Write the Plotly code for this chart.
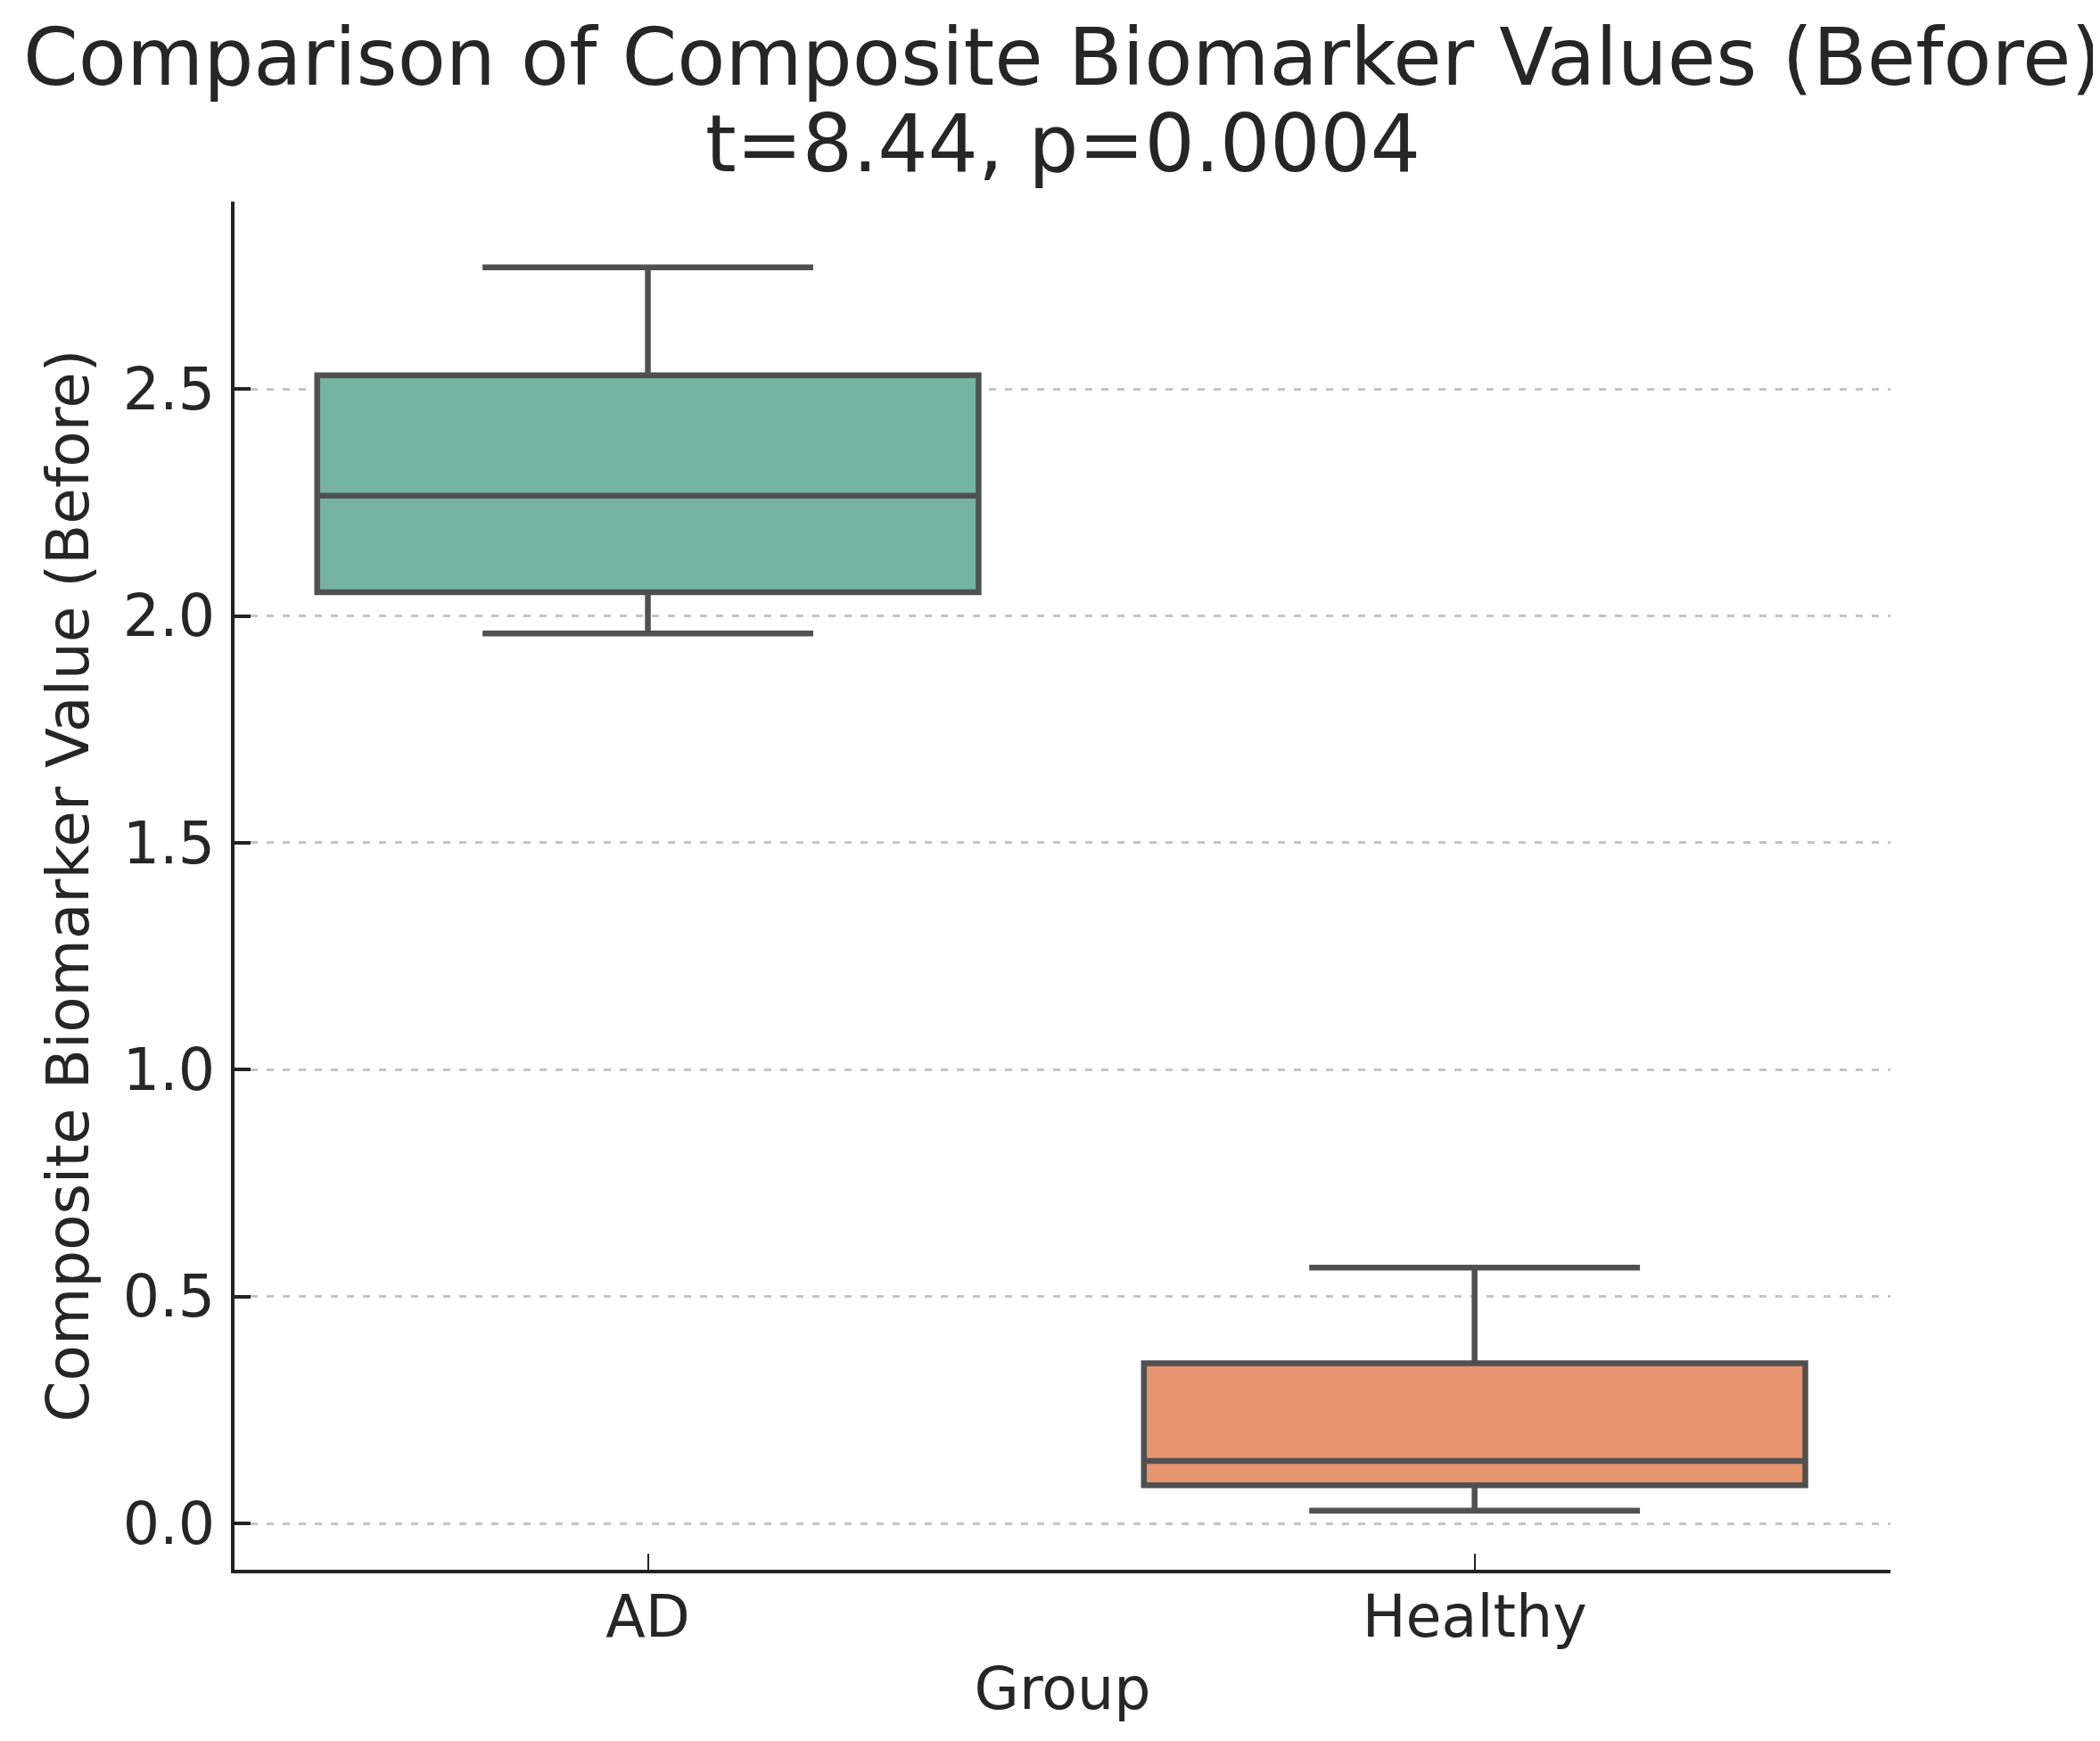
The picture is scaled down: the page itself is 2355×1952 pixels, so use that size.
import plotly.graph_objects as go

groups = ["AD", "Healthy"]
lower_fence = [1.961, 0.028]
q1_vals = [2.052, 0.084]
median_vals = [2.265, 0.138]
q3_vals = [2.530, 0.353]
upper_fence = [2.768, 0.564]
fill_colors = ["#74b4a0", "#e6956f"]
y_ticks = [0.0, 0.5, 1.0, 1.5, 2.0, 2.5]

title_line1 = "Comparison of Composite Biomarker Values (Before)"
title_line2 = "t=8.44, p=0.0004"

FONT = "DejaVu Sans"
TXT = "#262626"

fig = go.Figure()
for i, g in enumerate(groups):
    fig.add_trace(go.Box(
        x=[g],
        q1=[q1_vals[i]],
        median=[median_vals[i]],
        q3=[q3_vals[i]],
        lowerfence=[lower_fence[i]],
        upperfence=[upper_fence[i]],
        fillcolor=fill_colors[i],
        line=dict(color="#505050", width=6.5),
        width=0.8,
        whiskerwidth=0.5,
        boxpoints=False,
        showlegend=False,
        hoverinfo="skip",
    ))

fig.update_layout(
    width=2355, height=1952,
    margin=dict(l=255, r=243, t=218, b=200),
    paper_bgcolor="white", plot_bgcolor="white",
    font=dict(family=FONT, color=TXT, size=65),
    showlegend=False,
    annotations=[
        dict(text=title_line1, xref="paper", yref="paper", x=0.5, y=1.1056,
             xanchor="center", yanchor="middle", showarrow=False,
             font=dict(size=88.5, family=FONT, color=TXT)),
        dict(text=title_line2, xref="paper", yref="paper", x=0.5, y=1.0423,
             xanchor="center", yanchor="middle", showarrow=False,
             font=dict(size=88.5, family=FONT, color=TXT)),
    ],
)

fig.update_xaxes(
    type="category", categoryorder="array", categoryarray=groups,
    range=[-0.5, 1.503],
    showline=True, linecolor="#222222", linewidth=4, mirror=False,
    ticks="inside", ticklen=18, tickwidth=2, tickcolor="#222222",
    showgrid=False, zeroline=False,
    tickfont=dict(size=65, family=FONT, color=TXT),
    ticklabelstandoff=-7,
    title=dict(text="Group", font=dict(size=65, family=FONT, color=TXT), standoff=22),
)

fig.update_yaxes(
    range=[-0.102, 2.913],
    tickvals=y_ticks, tickformat=".1f",
    showline=True, linecolor="#222222", linewidth=4, mirror=False,
    ticks="inside", ticklen=18, tickwidth=4, tickcolor="#222222",
    showgrid=True, gridcolor="#c4c4c4", gridwidth=2.5, griddash="8px,10px",
    zeroline=False,
    tickfont=dict(size=65, family=FONT, color=TXT),
    ticklabelstandoff=5,
    title=dict(text="Composite Biomarker Value (Before)",
               font=dict(size=66, family=FONT, color=TXT), standoff=18),
)

fig.write_html("out.html")
